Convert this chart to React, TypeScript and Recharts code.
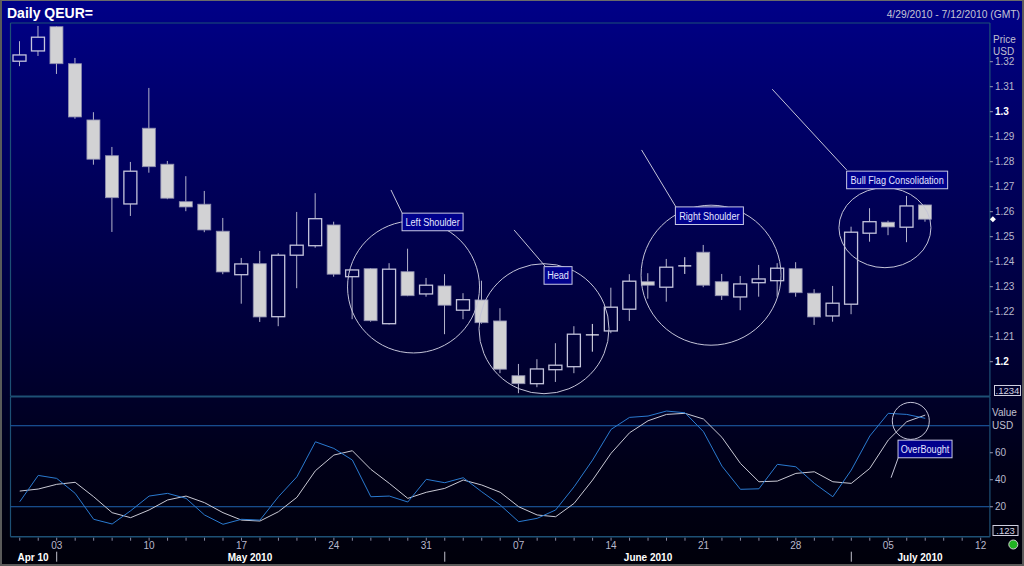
import React from 'react';
import { ComposedChart, Bar, Line, XAxis, YAxis, ReferenceLine, ReferenceDot } from 'recharts';

// ---------- data ----------
const tradingDates = [
  '4/29', '4/30',
  '5/3', '5/4', '5/5', '5/6', '5/7', '5/10', '5/11', '5/12', '5/13', '5/14',
  '5/17', '5/18', '5/19', '5/20', '5/21', '5/24', '5/25', '5/26', '5/27', '5/28', '5/31',
  '6/1', '6/2', '6/3', '6/4', '6/7', '6/8', '6/9', '6/10', '6/11',
  '6/14', '6/15', '6/16', '6/17', '6/18', '6/21', '6/22', '6/23', '6/24', '6/25',
  '6/28', '6/29', '6/30', '7/1', '7/2', '7/5', '7/6', '7/7', '7/8', '7/9', '7/12',
];

const openPrices = [
  1.3202, 1.3243, 1.3340, 1.3192, 1.2967, 1.2824, 1.2631, 1.2934, 1.2790, 1.2640,
  1.2630, 1.2522, 1.2348, 1.2392, 1.2180, 1.2426, 1.2464, 1.2547, 1.2340, 1.2372,
  1.2152, 1.2360, 1.2271, 1.2303, 1.2206, 1.2247, 1.2163, 1.1944, 1.1912, 1.1968,
  1.1980, 1.2107, 1.2123, 1.2210, 1.2320, 1.2298, 1.2383, 1.2438, 1.2320, 1.2259,
  1.2316, 1.2324, 1.2372, 1.2274, 1.2183, 1.2230, 1.2514, 1.2558, 1.2538, 1.2627,
];
const highPrices = [
  1.3282, 1.3343, 1.3342, 1.3215, 1.2998, 1.2859, 1.2799, 1.3095, 1.2803, 1.2742,
  1.2683, 1.2575, 1.2415, 1.2443, 1.2434, 1.2599, 1.2674, 1.2560, 1.2368, 1.2374,
  1.2394, 1.2452, 1.2335, 1.2350, 1.2274, 1.2324, 1.2214, 1.1991, 1.2010, 1.2074,
  1.2142, 1.2151, 1.2296, 1.2350, 1.2354, 1.2411, 1.2418, 1.2467, 1.2351, 1.2343,
  1.2387, 1.2394, 1.2398, 1.2290, 1.2303, 1.2540, 1.2614, 1.2564, 1.2663, 1.2628,
];
const lowPrices = [
  1.3182, 1.3223, 1.3151, 1.2972, 1.2788, 1.2519, 1.2583, 1.2756, 1.2650, 1.2602,
  1.2518, 1.2350, 1.2232, 1.2159, 1.2142, 1.2294, 1.2456, 1.2340, 1.2170, 1.2160,
  1.2149, 1.2262, 1.2260, 1.2110, 1.2170, 1.2152, 1.1954, 1.1874, 1.1898, 1.1919,
  1.1954, 1.2040, 1.2114, 1.2163, 1.2252, 1.2240, 1.2351, 1.2298, 1.2247, 1.2206,
  1.2260, 1.2260, 1.2260, 1.2147, 1.2160, 1.2190, 1.2480, 1.2506, 1.2478, 1.2560,
];
const closePrices = [
  1.3227, 1.3298, 1.3192, 1.2979, 1.2810, 1.2656, 1.2762, 1.2780, 1.2654, 1.2619,
  1.2527, 1.2359, 1.2391, 1.2179, 1.2426, 1.2466, 1.2572, 1.2350, 1.2367, 1.2164,
  1.2370, 1.2264, 1.2306, 1.2226, 1.2248, 1.2156, 1.1970, 1.1912, 1.1971, 1.1986,
  1.2110, 1.2107, 1.2218, 1.2322, 1.2306, 1.2378, 1.2383, 1.2306, 1.2264, 1.2311,
  1.2331, 1.2374, 1.2276, 1.2179, 1.2234, 1.2518, 1.2560, 1.2539, 1.2623, 1.2570,
];

const stochK = [
  23.7, 43.2, 41.0, 29.9, 10.7, 7.2, 17.0, 27.9, 29.9, 26.2,
  13.9, 7.0, 10.7, 10.1, 27.4, 42.2, 68.1, 63.2, 54.6, 27.4,
  27.9, 23.5, 40.3, 37.8, 41.5, 31.1, 21.3, 8.9, 11.4, 17.6,
  34.8, 54.6, 77.3, 86.2, 87.2, 90.9, 89.6, 75.6, 50.1, 32.9,
  33.3, 51.4, 49.6, 37.3, 27.4, 47.2, 72.4, 89.2, 88.4, 85.5,
];
const stochD = [
  31.6, 33.1, 36.6, 38.1, 27.4, 15.6, 11.9, 17.6, 25.0, 27.9,
  23.0, 15.6, 10.1, 9.4, 16.3, 27.0, 46.7, 58.3, 61.5, 47.7,
  37.3, 26.2, 30.7, 33.6, 39.8, 36.1, 30.7, 20.0, 13.9, 12.6,
  22.5, 39.8, 59.6, 74.8, 83.7, 88.4, 89.2, 85.0, 71.4, 52.1,
  38.5, 39.0, 44.7, 45.9, 38.5, 37.3, 48.4, 69.4, 83.0, 87.9,
];

const priceTicks = [1.2, 1.21, 1.22, 1.23, 1.24, 1.25, 1.26, 1.27, 1.28, 1.29, 1.3, 1.31, 1.32];
const priceTickLabels = ['1.2', '1.21', '1.22', '1.23', '1.24', '1.25', '1.26', '1.27', '1.28', '1.29', '1.3', '1.31', '1.32'];
const boldPriceLabels = ['1.2', '1.3'];
const oscTicks = [20, 40, 60];
const oscLevels = [80, 20];
const monthLabels = ['Apr 10', 'May 2010', 'June 2010', 'July 2010'];
const monthLabelPos = [0.72, 12.46, 34.0, 48.72];

// annotations (data coordinates: x = trading-day index, y = price / oscillator value)
const annotCircles = [
  { i: 21.31, p: 1.2299, rx: 66, ry: 66 },
  { i: 28.37, p: 1.2132, rx: 65, ry: 65 },
  { i: 37.41, p: 1.2346, rx: 70, ry: 70 },
  { i: 46.82, p: 1.2536, rx: 46, ry: 40 },
];
const annotLabels = [
  { text: 'Left Shoulder', i: 22.34, p: 1.2559, w: 61 },
  { text: 'Head', i: 29.13, p: 1.2345, w: 28 },
  { text: 'Right Shoulder', i: 37.32, p: 1.2584, w: 68 },
  { text: 'Bull Flag Consolidation', i: 47.48, p: 1.2727, w: 101 },
];
const annotLeaders = [
  { i1: 20.09, p1: 1.2687, i2: 20.69, p2: 1.2595 },
  { i1: 26.75, p1: 1.2527, i2: 28.42, p2: 1.2383 },
  { i1: 33.65, p1: 1.2847, i2: 35.51, p2: 1.2619 },
  { i1: 40.72, p1: 1.3090, i2: 44.75, p2: 1.2767 },
];
const oscCircle = { i: 48.22, v: 83.6, r: 18.5 };
const oscLabel = { text: 'OverBought', i: 48.99, v: 62.8, w: 54 };
const oscLeader = { i1: 47.15, v1: 41.5, i2: 47.54, v2: 56.3 };

const rows = tradingDates.map((date, i) => ({
  i,
  date,
  open: openPrices[i],
  high: highPrices[i],
  low: lowPrices[i],
  close: closePrices[i],
  k: stochK[i],
  d: stochD[i],
}));

const lastClose = closePrices[closePrices.length - 1];

// ---------- style ----------
const FONT = '"Liberation Sans", Arial, Helvetica, sans-serif';
const BORDER = '#1d5075';
const LEVEL = '#1f63b0';
const W = 1024;
const H = 566;
const PLOT_LEFT = 10.5;
const AXIS_W = 34.1;
const PRICE_DOMAIN: [number, number] = [1.18608, 1.33548];
const OSC_DOMAIN: [number, number] = [-2.2, 101.3];
const X_DOMAIN: [number, number] = [-0.5, 52.5];

// ---------- shapes ----------
const Candle = (props: any) => {
  const { x, y, width, height, payload } = props;
  if (!payload || payload.high == null || !isFinite(y) || !isFinite(height)) return null;
  const { open, close, high, low } = payload;
  let top = y;
  let h = height;
  if (h < 0) {
    top = y + h;
    h = -h;
  }
  const k = h / (high - low);
  const yOf = (v: number) => top + (high - v) * k;
  const cx = x + width / 2;
  const yO = yOf(open);
  const yC = yOf(close);
  const bTop = Math.min(yO, yC);
  const bBot = Math.max(yO, yC);
  const yH = yOf(high);
  const yL = yOf(low);
  const bw = 13;
  const wick = '#b4b4cc';
  if (open === close) {
    return (
      <g>
        <line x1={cx} x2={cx} y1={yH} y2={yL} stroke="#e8e8f0" strokeWidth={1} />
        <line x1={cx - bw / 2} x2={cx + bw / 2} y1={yO} y2={yO} stroke="#f0f0f8" strokeWidth={1.3} />
      </g>
    );
  }
  const up = close > open;
  const bh = Math.max(bBot - bTop, 1.5);
  if (up) {
    return (
      <g>
        <line x1={cx} x2={cx} y1={yH} y2={bTop} stroke={wick} strokeWidth={1} />
        <line x1={cx} x2={cx} y1={bTop + bh} y2={yL} stroke={wick} strokeWidth={1} />
        <rect x={cx - bw / 2} y={bTop} width={bw} height={bh} fill="none" stroke="#c4c4dc" strokeWidth={1.3} />
      </g>
    );
  }
  return (
    <g>
      <line x1={cx} x2={cx} y1={yH} y2={yL} stroke={wick} strokeWidth={1} />
      <rect x={cx - bw / 2} y={bTop} width={bw} height={bh} fill="#d2d2d4" stroke="#8c8cae" strokeWidth={0.8} />
    </g>
  );
};

const ellipseShape = (rx: number, ry: number) => (p: any) => (
  <ellipse cx={p.cx} cy={p.cy} rx={rx} ry={ry} fill="none" stroke="#c4c4d8" strokeWidth={1} />
);

const labelShape = (text: string, w: number) => (p: any) => (
  <g>
    <rect x={p.cx - w / 2} y={p.cy - 8.8} width={w} height={17.6} fill="#00008c" stroke="#c8c8e4" strokeWidth={1} />
    <text
      transform={`translate(${p.cx},${p.cy + 3.9}) scale(0.83,1)`}
      textAnchor="middle"
      fontSize={11}
      fontFamily={FONT}
      fill="#e4e4ff"
    >
      {text}
    </text>
  </g>
);

const diamondShape = (p: any) => {
  const cx = p.cx + 3;
  const cy = p.cy;
  return <path d={`M${cx - 3},${cy} L${cx},${cy - 3} L${cx + 3},${cy} L${cx},${cy + 3} Z`} fill="#ffffff" />;
};

const PriceTick = (props: any) => {
  const { x, y, payload } = props;
  const idx = priceTicks.findIndex((t) => Math.abs(t - payload.value) < 1e-6);
  const label = idx >= 0 ? priceTickLabels[idx] : String(payload.value);
  const major = boldPriceLabels.includes(label);
  return (
    <text
      x={x}
      y={y + 3.6}
      textAnchor="start"
      fontSize={10}
      fontFamily={FONT}
      fontWeight={major ? 'bold' : 'normal'}
      fill={major ? '#ffffff' : '#b8b8cc'}
    >
      {label}
    </text>
  );
};

const OscTick = (props: any) => {
  const { x, y, payload } = props;
  return (
    <text x={x} y={y + 3.6} textAnchor="start" fontSize={10} fontFamily={FONT} fill="#b8b8cc">
      {payload.value}
    </text>
  );
};

const DayTick = (props: any) => {
  const { x, y, payload } = props;
  const idx = Math.round(Number(payload.value));
  const date = tradingDates[idx];
  if (!date) return null;
  const [m, d] = date.split('/').map(Number);
  const monday = new Date(2010, m - 1, d).getDay() === 1;
  const prevMonth = idx > 0 ? Number(tradingDates[idx - 1].split('/')[0]) : m;
  const monthStart = idx > 0 && prevMonth !== m;
  return (
    <g>
      <line x1={x} x2={x} y1={y + 1} y2={y + 4} stroke="#8a8aa4" strokeWidth={1} />
      {monday && (
        <text x={x} y={y + 12} textAnchor="middle" fontSize={10} fontFamily={FONT} fill="#b8b8cc">
          {String(d).padStart(2, '0')}
        </text>
      )}
      {monthStart && <line x1={x} x2={x} y1={y + 15} y2={y + 25} stroke="#c0c0cc" strokeWidth={1} />}
    </g>
  );
};

const MonthTick = (props: any) => {
  const { x, y, payload } = props;
  const idx = monthLabelPos.findIndex((t) => Math.abs(t - payload.value) < 1e-6);
  if (idx < 0) return null;
  return (
    <text x={x} y={y + 10.8} textAnchor="middle" fontSize={10} fontWeight="bold" fontFamily={FONT} fill="#ffffff">
      {monthLabels[idx]}
    </text>
  );
};

const dayTicks = tradingDates.map((_, i) => i);

export default function App() {
  return (
    <div
      style={{
        position: 'absolute',
        left: 0,
        top: 0,
        width: W,
        height: H,
        overflow: 'hidden',
        fontFamily: FONT,
        background: 'linear-gradient(to bottom, #000088 0%, #00006a 20%, #00004a 45%, #00002c 68%, #000018 82%, #00000a 100%)',
      }}
    >
      {/* price panel */}
      <div style={{ position: 'absolute', left: 0, top: 0 }}>
        <ComposedChart width={W} height={400} data={rows} margin={{ top: 23, right: 0, bottom: 3.5, left: PLOT_LEFT }}>
          <XAxis dataKey="i" type="category" hide />
          <XAxis xAxisId="num" dataKey="i" type="number" domain={X_DOMAIN} allowDataOverflow hide />
          <YAxis
            orientation="right"
            width={AXIS_W}
            domain={PRICE_DOMAIN}
            allowDataOverflow
            ticks={priceTicks}
            interval={0}
            tickSize={3}
            tickMargin={2}
            tick={PriceTick}
            tickLine={{ stroke: '#9a9ab4' }}
            axisLine={{ stroke: BORDER, strokeWidth: 1.2 }}
          />
          <ReferenceLine xAxisId="num" x={-0.5} stroke={BORDER} strokeWidth={1.2} ifOverflow="visible" />
          <ReferenceLine xAxisId="num" y={PRICE_DOMAIN[1]} stroke={BORDER} strokeWidth={1.2} ifOverflow="visible" />
          <ReferenceLine xAxisId="num" y={PRICE_DOMAIN[0]} stroke={BORDER} strokeWidth={2} ifOverflow="visible" />
          <Bar dataKey={(r: any) => (r.high == null ? null : [r.low, r.high])} barSize={14} shape={Candle} isAnimationActive={false} />
          {annotCircles.map((c, n) => (
            <ReferenceDot key={`c${n}`} xAxisId="num" x={c.i} y={c.p} r={c.rx} ifOverflow="visible" shape={ellipseShape(c.rx, c.ry)} />
          ))}
          {annotLeaders.map((l, n) => (
            <ReferenceLine
              key={`l${n}`}
              xAxisId="num"
              segment={[
                { x: l.i1, y: l.p1 },
                { x: l.i2, y: l.p2 },
              ]}
              stroke="#c4c4d8"
              strokeWidth={1}
              ifOverflow="visible"
            />
          ))}
          {annotLabels.map((a, n) => (
            <ReferenceDot key={`t${n}`} xAxisId="num" x={a.i} y={a.p} r={4} ifOverflow="visible" shape={labelShape(a.text, a.w)} />
          ))}
          <ReferenceDot xAxisId="num" x={X_DOMAIN[1]} y={lastClose} r={3} ifOverflow="visible" shape={diamondShape} />
        </ComposedChart>
      </div>

      {/* oscillator panel */}
      <div style={{ position: 'absolute', left: 0, top: 0 }}>
        <ComposedChart width={W} height={H} data={rows} margin={{ top: 397, right: 0, bottom: 0, left: PLOT_LEFT }}>
          <XAxis
            dataKey="i"
            type="number"
            domain={X_DOMAIN}
            allowDataOverflow
            ticks={dayTicks}
            interval={0}
            height={13}
            tickSize={0}
            tickMargin={0}
            tickLine={false}
            axisLine={false}
            tick={DayTick}
          />
          <XAxis
            xAxisId="num"
            dataKey="i"
            type="number"
            domain={X_DOMAIN}
            allowDataOverflow
            ticks={monthLabelPos}
            interval={0}
            height={16.3}
            tickSize={0}
            tickMargin={0}
            tickLine={false}
            axisLine={false}
            tick={MonthTick}
          />
          <YAxis
            orientation="right"
            width={AXIS_W}
            domain={OSC_DOMAIN}
            allowDataOverflow
            ticks={oscTicks}
            interval={0}
            tickSize={3}
            tickMargin={2}
            tick={OscTick}
            tickLine={{ stroke: '#9a9ab4' }}
            axisLine={{ stroke: BORDER, strokeWidth: 1.2 }}
          />
          <ReferenceLine xAxisId="num" x={-0.5} stroke={BORDER} strokeWidth={1.2} ifOverflow="visible" />
          <ReferenceLine xAxisId="num" y={OSC_DOMAIN[0]} stroke={BORDER} strokeWidth={1.5} ifOverflow="visible" />
          {oscLevels.map((v) => (
            <ReferenceLine key={v} xAxisId="num" y={v} stroke={LEVEL} strokeWidth={1} ifOverflow="visible" />
          ))}
          <Line dataKey="d" type="linear" stroke="#c8c8d4" strokeWidth={1} dot={false} isAnimationActive={false} />
          <Line dataKey="k" type="linear" stroke="#2a7ad0" strokeWidth={1} dot={false} isAnimationActive={false} />
          <ReferenceDot xAxisId="num" x={oscCircle.i} y={oscCircle.v} r={oscCircle.r} ifOverflow="visible" shape={ellipseShape(oscCircle.r, oscCircle.r)} />
          <ReferenceLine
            xAxisId="num"
            segment={[
              { x: oscLeader.i1, y: oscLeader.v1 },
              { x: oscLeader.i2, y: oscLeader.v2 },
            ]}
            stroke="#c4c4d8"
            strokeWidth={1}
            ifOverflow="visible"
          />
          <ReferenceDot xAxisId="num" x={oscLabel.i} y={oscLabel.v} r={4} ifOverflow="visible" shape={labelShape(oscLabel.text, oscLabel.w)} />
        </ComposedChart>
      </div>

      {/* header & axis captions */}
      <svg width={W} height={H} style={{ position: 'absolute', left: 0, top: 0, pointerEvents: 'none' }}>
        <text x={7} y={17.5} fontSize={14} fontWeight="bold" fontFamily={FONT} fill="#ffffff">
          Daily QEUR=
        </text>
        <text x={1020} y={18} fontSize={10.3} fontFamily={FONT} fill="#c4c4d4" textAnchor="end">
          4/29/2010 - 7/12/2010 (GMT)
        </text>
        <text x={993} y={43} fontSize={10} fontFamily={FONT} fill="#c0c0d0">Price</text>
        <text x={993} y={55} fontSize={10} fontFamily={FONT} fill="#c0c0d0">USD</text>
        <text x={992} y={415.5} fontSize={10} fontFamily={FONT} fill="#c0c0d0">Value</text>
        <text x={992} y={428.5} fontSize={10} fontFamily={FONT} fill="#c0c0d0">USD</text>
        <rect x={994.5} y={385.5} width={26} height={10} fill="none" stroke="#d0d0e0" strokeWidth={1} />
        <text x={1007.5} y={394} fontSize={9.5} fontFamily={FONT} fill="#d0d0e0" textAnchor="middle">.1234</text>
        <rect x={993} y={525.5} width={25} height={10} fill="none" stroke="#d0d0e0" strokeWidth={1} />
        <text x={1005.5} y={534} fontSize={9.5} fontFamily={FONT} fill="#d0d0e0" textAnchor="middle">.123</text>
        <circle cx={1013.3} cy={544.5} r={4.5} fill="#22b422" stroke="#d0d0d0" strokeWidth={1} />
      </svg>

      {/* outer frame */}
      <div
        style={{
          position: 'absolute',
          left: 0,
          top: 0,
          width: W,
          height: H,
          boxSizing: 'border-box',
          borderTop: '1px solid #6a6a6a',
          borderLeft: '2px solid #5a5a5a',
          borderRight: '2px solid #5a5a5a',
          borderBottom: '2px solid #5a5a5a',
          pointerEvents: 'none',
        }}
      />
    </div>
  );
}
